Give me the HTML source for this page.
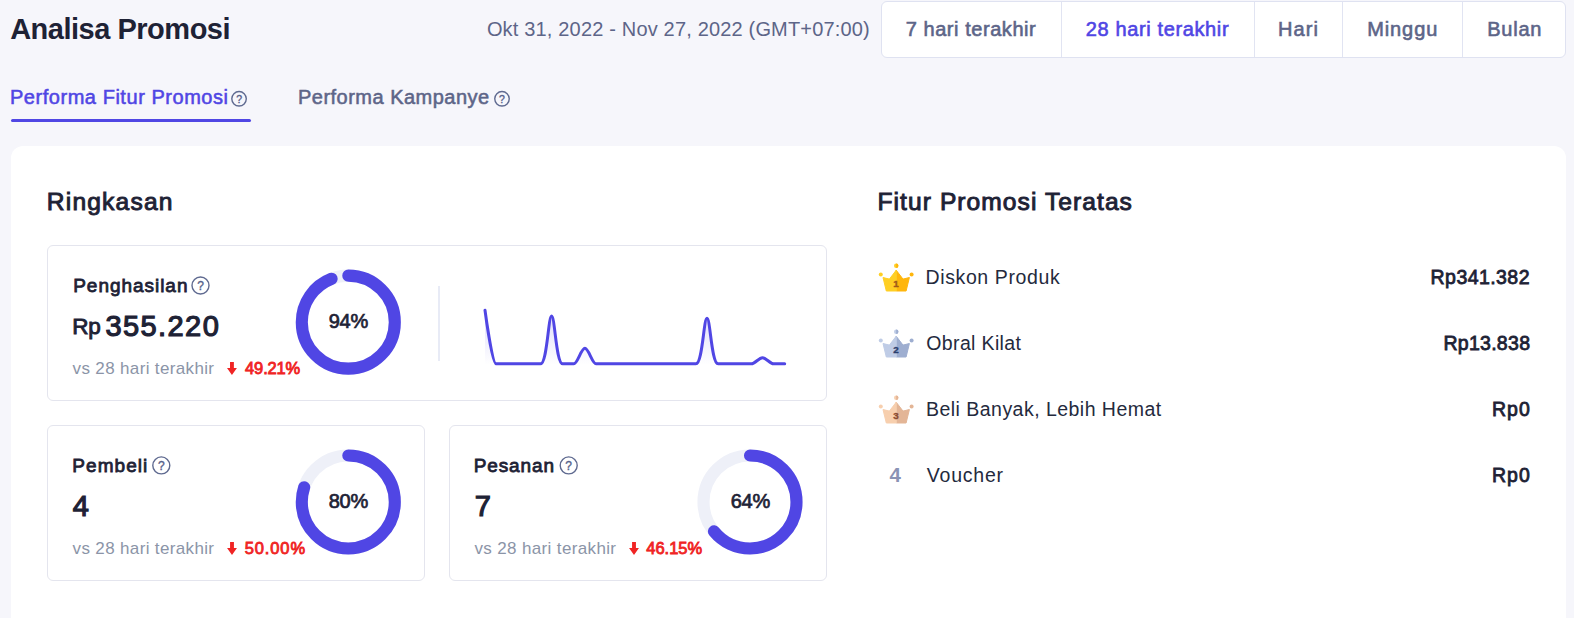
<!DOCTYPE html>
<html lang="id"><head><meta charset="utf-8"><title>Analisa Promosi</title>
<style>
html,body{margin:0;padding:0}
body{width:1574px;height:618px;overflow:hidden;position:relative;background:#f6f6fb;font-family:"Liberation Sans",sans-serif}
h1,h2,h3,p,ul,li{margin:0;padding:0;list-style:none;font:inherit}
button{all:unset}
.abs{position:absolute;display:block}
.t{position:absolute;white-space:pre;display:block}
.panel{position:absolute;left:11px;top:146px;width:1555px;height:500px;background:#fff;border-radius:12px}
.card{position:absolute;box-sizing:border-box;border:1px solid #e4e5ee;border-radius:6px;background:#fff}
.seg{position:absolute;left:881px;top:1px;width:685px;height:57px;box-sizing:border-box;border:1px solid #dfe2f1;border-radius:6px;background:#fff}
.seg i{position:absolute;top:0;height:55px;width:1px;background:#e1e4f2}
.ul{position:absolute;left:11px;top:119px;width:240px;height:3px;border-radius:2px;background:#5046e4}
.vr{position:absolute;left:438px;top:286px;width:2px;height:75px;background:#e8ebf6}
</style></head><body>
<header>
<h1><span id="title" class="t " style="left:10.13px;top:12.45px;font-size:29px;line-height:35px;font-weight:700;color:#1e2235;letter-spacing:-0.486px">Analisa Promosi</span></h1>
<p><span id="date" class="t " style="left:486.9px;top:17.37px;font-size:20px;line-height:24px;font-weight:400;color:#5d6588;letter-spacing:0.173px">Okt 31, 2022 - Nov 27, 2022 (GMT+07:00)</span></p>
<div class="seg"><i style="left:179px"></i><i style="left:372px"></i><i style="left:460px"></i><i style="left:580px"></i></div>
<nav>
<button type="button"><span id="b1" class="t " style="left:905.7px;top:16.97px;font-size:20px;line-height:24px;font-weight:400;color:#5d6588;letter-spacing:0.558px;-webkit-text-stroke:0.6px currentColor">7 hari terakhir</span></button>
<button type="button"><span id="b2" class="t " style="left:1085.7px;top:16.97px;font-size:20px;line-height:24px;font-weight:400;color:#5046e4;letter-spacing:0.633px;-webkit-text-stroke:0.6px currentColor">28 hari terakhir</span></button>
<button type="button"><span id="b3" class="t " style="left:1278.0px;top:16.97px;font-size:20px;line-height:24px;font-weight:400;color:#5d6588;letter-spacing:1.109px;-webkit-text-stroke:0.6px currentColor">Hari</span></button>
<button type="button"><span id="b4" class="t " style="left:1367.2px;top:16.97px;font-size:20px;line-height:24px;font-weight:400;color:#5d6588;letter-spacing:0.898px;-webkit-text-stroke:0.6px currentColor">Minggu</span></button>
<button type="button"><span id="b5" class="t " style="left:1487.2px;top:16.97px;font-size:20px;line-height:24px;font-weight:400;color:#5d6588;letter-spacing:0.786px;-webkit-text-stroke:0.6px currentColor">Bulan</span></button>
</nav>
</header>
<nav>
<button type="button"><span id="tab1" class="t " style="left:9.98px;top:84.79px;font-size:20px;line-height:24px;font-weight:400;color:#5046e4;letter-spacing:0.54px;-webkit-text-stroke:0.55px currentColor">Performa Fitur Promosi</span><svg class="abs" style="left:230px;top:89px" width="19" height="19" viewBox="230 89 19 19"><circle cx="239.05" cy="98.8" r="7.25" fill="none" stroke="#5f6a90" stroke-width="1.4"/><text x="239.05" y="102.58" text-anchor="middle" font-family="Liberation Sans, sans-serif" font-size="10.5" fill="#56618a" stroke="#56618a" stroke-width="0.35">?</text></svg></button>
<button type="button"><span id="tab2" class="t " style="left:297.97px;top:84.79px;font-size:20px;line-height:24px;font-weight:400;color:#5d6588;letter-spacing:0.486px;-webkit-text-stroke:0.55px currentColor">Performa Kampanye</span><svg class="abs" style="left:493px;top:89px" width="19" height="19" viewBox="493 89 19 19"><circle cx="502.0" cy="98.8" r="7.25" fill="none" stroke="#5f6a90" stroke-width="1.4"/><text x="502.0" y="102.58" text-anchor="middle" font-family="Liberation Sans, sans-serif" font-size="10.5" fill="#56618a" stroke="#56618a" stroke-width="0.35">?</text></svg></button>
<div class="ul"></div>
</nav>
<main>
<div class="panel"></div>
<section>
<h2><span id="h1" class="t " style="left:46.82px;top:187.3px;font-size:24.6px;line-height:30px;font-weight:400;color:#1e2235;letter-spacing:1.178px;-webkit-text-stroke:0.95px currentColor">Ringkasan</span></h2>
<article>
<div class="card" style="left:47px;top:245px;width:780px;height:156px"></div>
<h3><span id="c1l" class="t " style="left:73.23px;top:273.82px;font-size:19px;line-height:23px;font-weight:400;color:#1e2235;letter-spacing:0.967px;-webkit-text-stroke:0.8px currentColor">Penghasilan</span><svg class="abs" style="left:190px;top:275px" width="22" height="22" viewBox="190 275 22 22"><circle cx="200.5" cy="285.5" r="8.50" fill="none" stroke="#5f6a90" stroke-width="1.4"/><text x="200.5" y="289.82" text-anchor="middle" font-family="Liberation Sans, sans-serif" font-size="12" fill="#56618a" stroke="#56618a" stroke-width="0.35">?</text></svg></h3>
<p><span id="c1rp" class="t " style="left:72.25px;top:312.65px;font-size:22.5px;line-height:27px;font-weight:400;color:#1e2235;letter-spacing:-0.126px;-webkit-text-stroke:0.9px currentColor">Rp</span><span id="c1v" class="t " style="left:105.43px;top:308.85px;font-size:29px;line-height:35px;font-weight:400;color:#1e2235;letter-spacing:1.419px;-webkit-text-stroke:1.2px currentColor">355.220</span></p>
<p><span id="c1vs" class="t " style="left:72.59px;top:359.11px;font-size:17px;line-height:20px;font-weight:400;color:#8b94a7;letter-spacing:0.35px">vs 28 hari terakhir</span><svg class="abs" style="left:223px;top:360px" width="17" height="19" viewBox="223 360 17 19"><path d="M230.01999999999998,362 H233.88 V368 H236.89999999999998 L231.95,375 L227.0,368 H230.01999999999998 Z" fill="#f02424"/></svg><span id="c1p" class="t " style="left:245.12px;top:358.06px;font-size:16.5px;line-height:20px;font-weight:400;color:#f02424;letter-spacing:-0.166px;-webkit-text-stroke:0.85px currentColor">49.21%</span></p>
<svg class="abs" style="left:293px;top:267px" width="111" height="111" viewBox="293 267 111 111"><circle cx="348.3" cy="322.15" r="46.5" fill="none" stroke="#eef0f8" stroke-width="12.1"/><circle cx="348.3" cy="322.15" r="46.5" fill="none" stroke="#5046e4" stroke-width="12.1" stroke-linecap="round" stroke-dasharray="274.64 292.17" transform="rotate(-90 348.3 322.15)"/></svg><span id="c1d" class="t " style="left:328.75px;top:308.72px;font-size:20px;line-height:24px;font-weight:400;color:#1e2235;letter-spacing:-0.266px;-webkit-text-stroke:0.7px currentColor">94%</span>
<div class="vr"></div>
<svg class="abs" style="left:470px;top:296px" width="331" height="81" viewBox="470 296 331 81"><defs><linearGradient id="sg" x1="0" y1="0" x2="0" y2="1"><stop offset="0" stop-color="#5046e4" stop-opacity="0.2"/><stop offset="1" stop-color="#5046e4" stop-opacity="0"/></linearGradient></defs><path d="M485.00,310.20 C485.00,310.20 492.10,363.80 496.10,363.80 L507.20,363.80 L518.30,363.80 L529.40,363.80 L540.50,363.80 C547.16,363.80 548.27,316.10 551.60,316.10 C554.93,316.10 556.04,363.80 562.70,363.80 L573.80,363.80 C577.50,363.80 581.20,348.35 584.90,348.35 C588.60,348.35 592.30,363.80 596.00,363.80 L607.10,363.80 L618.20,363.80 L629.30,363.80 L640.40,363.80 L651.50,363.80 L662.60,363.80 L673.70,363.80 L684.80,363.80 L695.90,363.80 C702.56,363.80 703.67,318.20 707.00,318.20 C710.33,318.20 711.44,363.80 718.10,363.80 L729.20,363.80 L740.30,363.80 L751.40,363.80 C755.10,363.80 758.80,357.70 762.50,357.70 C766.20,357.70 769.90,363.80 773.60,363.80 L784.70,363.80 L784.7,364.8 L485.0,364.8 Z" fill="url(#sg)"/><path d="M485.00,310.20 C485.00,310.20 492.10,363.80 496.10,363.80 L507.20,363.80 L518.30,363.80 L529.40,363.80 L540.50,363.80 C547.16,363.80 548.27,316.10 551.60,316.10 C554.93,316.10 556.04,363.80 562.70,363.80 L573.80,363.80 C577.50,363.80 581.20,348.35 584.90,348.35 C588.60,348.35 592.30,363.80 596.00,363.80 L607.10,363.80 L618.20,363.80 L629.30,363.80 L640.40,363.80 L651.50,363.80 L662.60,363.80 L673.70,363.80 L684.80,363.80 L695.90,363.80 C702.56,363.80 703.67,318.20 707.00,318.20 C710.33,318.20 711.44,363.80 718.10,363.80 L729.20,363.80 L740.30,363.80 L751.40,363.80 C755.10,363.80 758.80,357.70 762.50,357.70 C766.20,357.70 769.90,363.80 773.60,363.80 L784.70,363.80" fill="none" stroke="#5046e4" stroke-width="3" stroke-linecap="round" stroke-linejoin="round"/></svg>
</article>
<article>
<div class="card" style="left:47px;top:425px;width:378px;height:156px"></div>
<h3><span id="c2l" class="t " style="left:72.3px;top:453.82px;font-size:19px;line-height:23px;font-weight:400;color:#1e2235;letter-spacing:1.064px;-webkit-text-stroke:0.8px currentColor">Pembeli</span><svg class="abs" style="left:151px;top:455px" width="22" height="22" viewBox="151 455 22 22"><circle cx="161.3" cy="465.4" r="8.50" fill="none" stroke="#5f6a90" stroke-width="1.4"/><text x="161.3" y="469.72" text-anchor="middle" font-family="Liberation Sans, sans-serif" font-size="12" fill="#56618a" stroke="#56618a" stroke-width="0.35">?</text></svg></h3>
<p><span id="c2v" class="t " style="left:72.83px;top:488.85px;font-size:29px;line-height:35px;font-weight:400;color:#1e2235;letter-spacing:0px;-webkit-text-stroke:1.2px currentColor">4</span></p>
<p><span id="c2vs" class="t " style="left:72.59px;top:539.11px;font-size:17px;line-height:20px;font-weight:400;color:#8b94a7;letter-spacing:0.35px">vs 28 hari terakhir</span><svg class="abs" style="left:224px;top:540px" width="17" height="19" viewBox="224 540 17 19"><path d="M230.07,542 H233.93 V548 H236.95 L232,555 L227.05,548 H230.07 Z" fill="#f02424"/></svg><span id="c2p" class="t " style="left:244.63px;top:538.06px;font-size:16.5px;line-height:20px;font-weight:400;color:#f02424;letter-spacing:0.894px;-webkit-text-stroke:0.85px currentColor">50.00%</span></p>
<svg class="abs" style="left:293px;top:446px" width="111" height="111" viewBox="293 446 111 111"><circle cx="348.3" cy="501.95" r="46.5" fill="none" stroke="#eef0f8" stroke-width="12.1"/><circle cx="348.3" cy="501.95" r="46.5" fill="none" stroke="#5046e4" stroke-width="12.1" stroke-linecap="round" stroke-dasharray="233.73 292.17" transform="rotate(-90 348.3 501.95)"/></svg><span id="c2d" class="t " style="left:328.75px;top:488.72px;font-size:20px;line-height:24px;font-weight:400;color:#1e2235;letter-spacing:-0.266px;-webkit-text-stroke:0.7px currentColor">80%</span>
</article>
<article>
<div class="card" style="left:449px;top:425px;width:378px;height:156px"></div>
<h3><span id="c3l" class="t " style="left:473.79px;top:453.82px;font-size:19px;line-height:23px;font-weight:400;color:#1e2235;letter-spacing:0.866px;-webkit-text-stroke:0.8px currentColor">Pesanan</span><svg class="abs" style="left:558px;top:455px" width="22" height="22" viewBox="558 455 22 22"><circle cx="568.7" cy="465.4" r="8.50" fill="none" stroke="#5f6a90" stroke-width="1.4"/><text x="568.7" y="469.72" text-anchor="middle" font-family="Liberation Sans, sans-serif" font-size="12" fill="#56618a" stroke="#56618a" stroke-width="0.35">?</text></svg></h3>
<p><span id="c3v" class="t " style="left:474.73px;top:488.85px;font-size:29px;line-height:35px;font-weight:400;color:#1e2235;letter-spacing:0px;-webkit-text-stroke:1.2px currentColor">7</span></p>
<p><span id="c3vs" class="t " style="left:474.49px;top:539.11px;font-size:17px;line-height:20px;font-weight:400;color:#8b94a7;letter-spacing:0.355px">vs 28 hari terakhir</span><svg class="abs" style="left:626px;top:540px" width="17" height="19" viewBox="626 540 17 19"><path d="M632.07,542 H635.93 V548 H638.95 L634,555 L629.05,548 H632.07 Z" fill="#f02424"/></svg><span id="c3p" class="t " style="left:646.33px;top:538.06px;font-size:16.5px;line-height:20px;font-weight:400;color:#f02424;letter-spacing:-0.038px;-webkit-text-stroke:0.85px currentColor">46.15%</span></p>
<svg class="abs" style="left:695px;top:446px" width="111" height="111" viewBox="695 446 111 111"><circle cx="750.0" cy="501.95" r="46.5" fill="none" stroke="#eef0f8" stroke-width="12.1"/><circle cx="750.0" cy="501.95" r="46.5" fill="none" stroke="#5046e4" stroke-width="12.1" stroke-linecap="round" stroke-dasharray="186.99 292.17" transform="rotate(-90 750.0 501.95)"/></svg><span id="c3d" class="t " style="left:730.75px;top:488.72px;font-size:20px;line-height:24px;font-weight:400;color:#1e2235;letter-spacing:-0.266px;-webkit-text-stroke:0.7px currentColor">64%</span>
</article>
</section>
<section>
<h2><span id="h2" class="t " style="left:877.53px;top:187.3px;font-size:24.6px;line-height:30px;font-weight:400;color:#1e2235;letter-spacing:1.057px;-webkit-text-stroke:0.95px currentColor">Fitur Promosi Teratas</span></h2>
<ul>
<li><svg class="abs" style="left:876px;top:259px" width="41" height="37" viewBox="876 259 41 37"><path d="M896.2,270.2 L903.0,279.1 L909.4000000000001,277.5 L906.1,291.0 H896.2 Z" fill="#ffb60c" stroke="#ffb60c" stroke-width="1" stroke-linejoin="round"/><path d="M896.2,270.2 L889.4000000000001,279.1 L883.0,277.5 L886.3000000000001,291.0 H896.2 Z" fill="#ffcf24" stroke="#ffcf24" stroke-width="1" stroke-linejoin="round"/><circle cx="896.2" cy="265.8" r="2.2" fill="#ffcf24"/><path d="M896.2,263.6 A2.2,2.2 0 0 1 896.2,268.0 Z" fill="#ffb60c"/><circle cx="880.8000000000001" cy="274.5" r="2" fill="#ffcf24"/><circle cx="911.6" cy="274.5" r="2" fill="#ffb60c"/><text x="895.9000000000001" y="286.7" text-anchor="middle" font-family="Liberation Sans, sans-serif" font-weight="700" font-size="9.8" fill="#a1591a" stroke="#a1591a" stroke-width="0.35">1</text></svg><span id="r1" class="t " style="left:925.54px;top:265.94px;font-size:19.5px;line-height:23px;font-weight:400;color:#242a3d;letter-spacing:0.615px">Diskon Produk</span><span id="v1" class="t " style="left:1430.62px;top:266.04px;font-size:19.5px;line-height:23px;font-weight:400;color:#1e2235;letter-spacing:0.431px;-webkit-text-stroke:0.8px currentColor">Rp341.382</span></li>
<li><svg class="abs" style="left:876px;top:325px" width="41" height="37" viewBox="876 325 41 37"><path d="M896.2,336.2 L903.0,345.1 L909.4000000000001,343.5 L906.1,357.0 H896.2 Z" fill="#9eaed0" stroke="#9eaed0" stroke-width="1" stroke-linejoin="round"/><path d="M896.2,336.2 L889.4000000000001,345.1 L883.0,343.5 L886.3000000000001,357.0 H896.2 Z" fill="#bfcce6" stroke="#bfcce6" stroke-width="1" stroke-linejoin="round"/><circle cx="896.2" cy="331.8" r="2.2" fill="#bfcce6"/><path d="M896.2,329.6 A2.2,2.2 0 0 1 896.2,334.0 Z" fill="#9eaed0"/><circle cx="880.8000000000001" cy="340.5" r="2" fill="#bfcce6"/><circle cx="911.6" cy="340.5" r="2" fill="#9eaed0"/><text x="895.9000000000001" y="352.7" text-anchor="middle" font-family="Liberation Sans, sans-serif" font-weight="700" font-size="9.8" fill="#2c3f6e" stroke="#2c3f6e" stroke-width="0.35">2</text></svg><span id="r2" class="t " style="left:926.31px;top:331.84px;font-size:19.5px;line-height:23px;font-weight:400;color:#242a3d;letter-spacing:0.359px">Obral Kilat</span><span id="v2" class="t " style="left:1443.41px;top:332.04px;font-size:19.5px;line-height:23px;font-weight:400;color:#1e2235;letter-spacing:0.285px;-webkit-text-stroke:0.8px currentColor">Rp13.838</span></li>
<li><svg class="abs" style="left:876px;top:391px" width="41" height="37" viewBox="876 391 41 37"><path d="M896.2,402.2 L903.0,411.1 L909.4000000000001,409.5 L906.1,423.0 H896.2 Z" fill="#e3b596" stroke="#e3b596" stroke-width="1" stroke-linejoin="round"/><path d="M896.2,402.2 L889.4000000000001,411.1 L883.0,409.5 L886.3000000000001,423.0 H896.2 Z" fill="#f7cfae" stroke="#f7cfae" stroke-width="1" stroke-linejoin="round"/><circle cx="896.2" cy="397.8" r="2.2" fill="#f7cfae"/><path d="M896.2,395.6 A2.2,2.2 0 0 1 896.2,400.0 Z" fill="#e3b596"/><circle cx="880.8000000000001" cy="406.5" r="2" fill="#f7cfae"/><circle cx="911.6" cy="406.5" r="2" fill="#e3b596"/><text x="895.9000000000001" y="418.7" text-anchor="middle" font-family="Liberation Sans, sans-serif" font-weight="700" font-size="9.8" fill="#8a4b32" stroke="#8a4b32" stroke-width="0.35">3</text></svg><span id="r3" class="t " style="left:926.01px;top:397.74px;font-size:19.5px;line-height:23px;font-weight:400;color:#242a3d;letter-spacing:0.469px">Beli Banyak, Lebih Hemat</span><span id="v3" class="t " style="left:1491.95px;top:398.04px;font-size:19.5px;line-height:23px;font-weight:400;color:#1e2235;letter-spacing:1.059px;-webkit-text-stroke:0.8px currentColor">Rp0</span></li>
<li><span id="r4n" class="t " style="left:889.38px;top:462.4px;font-size:20.5px;line-height:25px;font-weight:700;color:#8a93b5;letter-spacing:0px">4</span><span id="r4" class="t " style="left:926.86px;top:463.74px;font-size:19.5px;line-height:23px;font-weight:400;color:#242a3d;letter-spacing:0.761px">Voucher</span><span id="v4" class="t " style="left:1491.95px;top:464.04px;font-size:19.5px;line-height:23px;font-weight:400;color:#1e2235;letter-spacing:1.059px;-webkit-text-stroke:0.8px currentColor">Rp0</span></li>
</ul>
</section>
</main>
</body></html>
